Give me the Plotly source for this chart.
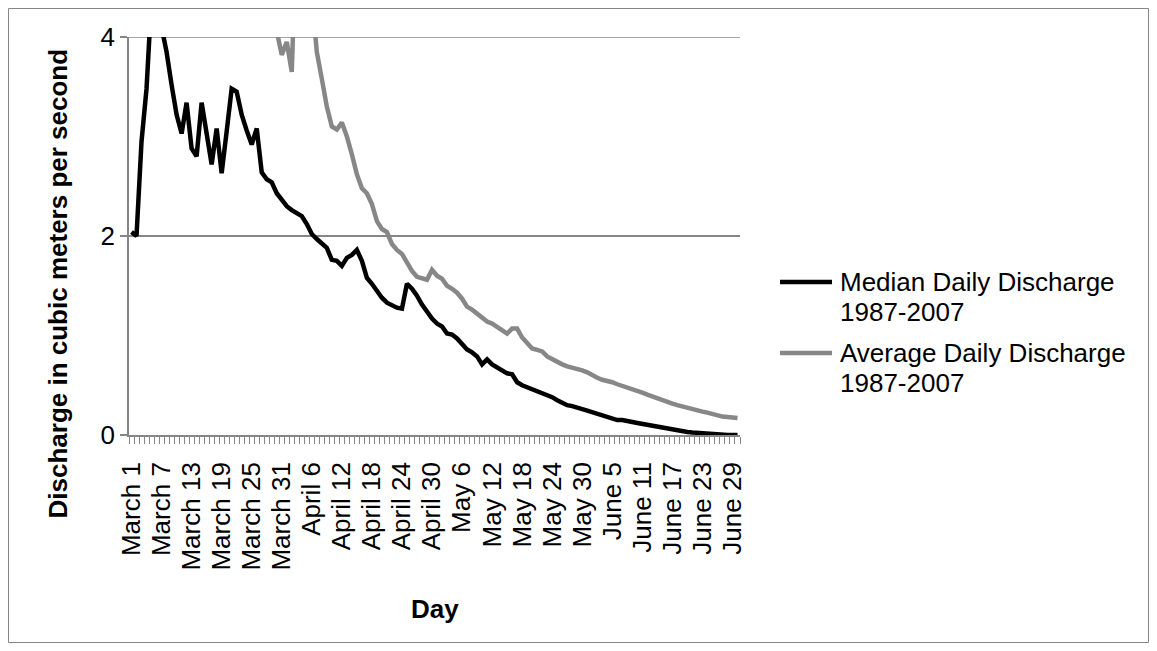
import plotly.graph_objects as go

# ---- data ----
months = [("March", 31), ("April", 30), ("May", 31), ("June", 30)]
days = [f"{m} {d}" for m, n in months for d in range(1, n + 1)]

median_q = [
    2.04, 2.00, 2.95, 3.48, 4.40, 4.60, 4.10, 3.85, 3.52, 3.22,
    3.03, 3.34, 2.88, 2.80, 3.34, 3.00, 2.72, 3.08, 2.63, 3.05,
    3.48, 3.45, 3.22, 3.06, 2.92, 3.08, 2.64, 2.57, 2.54, 2.43,
    2.36, 2.30, 2.26, 2.23, 2.20, 2.12, 2.02, 1.97, 1.92, 1.88,
    1.76, 1.75, 1.70, 1.78, 1.81, 1.86, 1.75, 1.58, 1.52, 1.44,
    1.38, 1.33, 1.30, 1.28, 1.27, 1.52, 1.47, 1.40, 1.31, 1.23,
    1.17, 1.12, 1.09, 1.02, 1.01, 0.97, 0.91, 0.86, 0.83, 0.79,
    0.71, 0.76, 0.71, 0.68, 0.64, 0.62, 0.61, 0.53, 0.50, 0.48,
    0.47, 0.44, 0.42, 0.41, 0.38, 0.35, 0.32, 0.30, 0.29, 0.28,
    0.26, 0.245, 0.23, 0.215, 0.20, 0.18, 0.16, 0.15, 0.15, 0.145,
    0.13, 0.12, 0.11, 0.10, 0.09, 0.08, 0.075, 0.065, 0.055, 0.05,
    0.04, 0.03, 0.025, 0.02, 0.015, 0.01, 0.005, 0.0, 0.0, 0.0,
    0.0, 0.0,
]

average_q = [
    4.60, 4.50, 5.00, 5.80, 6.90, 7.40, 7.00, 6.60, 6.20, 5.90,
    5.60, 5.70, 5.40, 5.20, 5.50, 5.30, 5.00, 5.20, 4.90, 5.00,
    5.60, 5.80, 5.50, 5.20, 4.90, 5.00, 4.70, 4.50, 4.30, 4.05,
    3.82, 3.95, 3.65, 5.20, 5.60, 5.00, 4.40, 3.85, 3.58, 3.30,
    3.10, 3.07, 3.14, 3.00, 2.82, 2.62, 2.48, 2.43, 2.32, 2.15,
    2.07, 2.04, 1.92, 1.86, 1.82, 1.73, 1.65, 1.59, 1.57, 1.56,
    1.66, 1.60, 1.57, 1.50, 1.47, 1.43, 1.37, 1.29, 1.26, 1.22,
    1.18, 1.14, 1.12, 1.09, 1.05, 1.02, 1.07, 1.07, 0.98, 0.92,
    0.87, 0.855, 0.84, 0.79, 0.76, 0.73, 0.71, 0.69, 0.68, 0.67,
    0.65, 0.63, 0.60, 0.575, 0.555, 0.545, 0.53, 0.51, 0.495, 0.48,
    0.465, 0.45, 0.425, 0.405, 0.385, 0.37, 0.35, 0.33, 0.315, 0.30,
    0.285, 0.275, 0.26, 0.25, 0.235, 0.225, 0.21, 0.195, 0.185, 0.18,
    0.175, 0.17,
]

label_every = 6
y_ticks = [0, 2, 4]

series_lines = [["Median Daily Discharge", "1987-2007"],
                ["Average Daily Discharge", "1987-2007"]]
series_colors = ["#000000", "#878787"]

assert len(days) == len(median_q) == len(average_q) == 122

# ---- figure ----
FONT = "Liberation Sans, Arial, sans-serif"
GRID = "#868686"
idx = list(range(len(days)))

# page has an 8px body margin; figure occupies screen x 8..1149, y 8..643
W, H = 1141, 635
L, T = 121, 29
PW, PH = 611, 398
R, B = W - L - PW, H - T - PH


def px_x(sx):  # screen x -> paper
    return (sx - 8 - L) / PW


def px_y(sy):  # screen y -> paper
    return (T + PH - (sy - 8)) / PH


fig = go.Figure()
for name_lines, vals, col in zip(series_lines, [median_q, average_q], series_colors):
    fig.add_trace(go.Scatter(x=idx, y=vals, mode="lines",
                             name=" ".join(name_lines), showlegend=False,
                             line=dict(color=col, width=4.5)))

tick_idx = idx[::label_every]

annotations = [
    dict(text="<b>Discharge in cubic meters per second</b>", textangle=-90,
         xref="paper", yref="paper", x=px_x(57), y=px_y(283.5),
         xanchor="center", yanchor="middle", showarrow=False,
         font=dict(size=26, family=FONT)),
    dict(text="<b>Day</b>", xref="paper", yref="paper",
         x=px_x(435), y=px_y(609),
         xanchor="center", yanchor="middle", showarrow=False,
         font=dict(size=26, family=FONT)),
]
shapes = [
    dict(type="rect", xref="paper", yref="paper",
         x0=px_x(8.5), x1=px_x(1148.5), y0=px_y(642.5), y1=px_y(8.5),
         line=dict(color=GRID, width=1), fillcolor="rgba(0,0,0,0)", layer="below"),
    # top gridline at y = 4
    dict(type="line", xref="paper", yref="y", x0=0, x1=1, y0=y_ticks[-1], y1=y_ticks[-1],
         line=dict(color=GRID, width=1.5), layer="below"),
]

# manual legend (line sample + two text lines per series)
leg_first_y = [282, 353]
for k, (lines, col) in enumerate(zip(series_lines, series_colors)):
    y0 = leg_first_y[k]
    shapes.append(dict(type="line", xref="paper", yref="paper",
                       x0=px_x(780), x1=px_x(832), y0=px_y(y0), y1=px_y(y0),
                       line=dict(color=col, width=4.5)))
    for j, txt in enumerate(lines):
        annotations.append(dict(text=txt, xref="paper", yref="paper",
                                x=px_x(838), y=px_y(y0 + 30 * j),
                                xanchor="left", yanchor="middle", showarrow=False,
                                font=dict(size=26, family=FONT)))

fig.update_layout(
    width=W, height=H, autosize=False,
    margin=dict(l=L, r=R, t=T, b=B, pad=0),
    paper_bgcolor="white", plot_bgcolor="white",
    font=dict(family=FONT, size=26, color="black"),
    showlegend=False,
    xaxis=dict(
        range=[-0.5, len(days) - 0.5],
        tickmode="array", tickvals=tick_idx, ticktext=[days[i] for i in tick_idx],
        tickangle=-90, ticks="", showgrid=False, zeroline=False,
        showline=True, linecolor=GRID, linewidth=1.5,
        tickfont=dict(size=26, family=FONT), ticklabelstandoff=15,
        minor=dict(tickmode="linear", tick0=-0.5, dtick=1, ticks="outside",
                   ticklen=7, tickcolor=GRID, tickwidth=1, showgrid=False),
    ),
    yaxis=dict(
        range=[0, 4], tickmode="array", tickvals=y_ticks,
        ticks="outside", ticklen=7, tickcolor=GRID, tickwidth=1.5,
        showgrid=True, gridcolor=GRID, gridwidth=1.5, zeroline=False,
        showline=True, linecolor=GRID, linewidth=1.5,
        tickfont=dict(size=26, family=FONT),
    ),
    annotations=annotations,
    shapes=shapes,
)

fig.write_html("out.html")
